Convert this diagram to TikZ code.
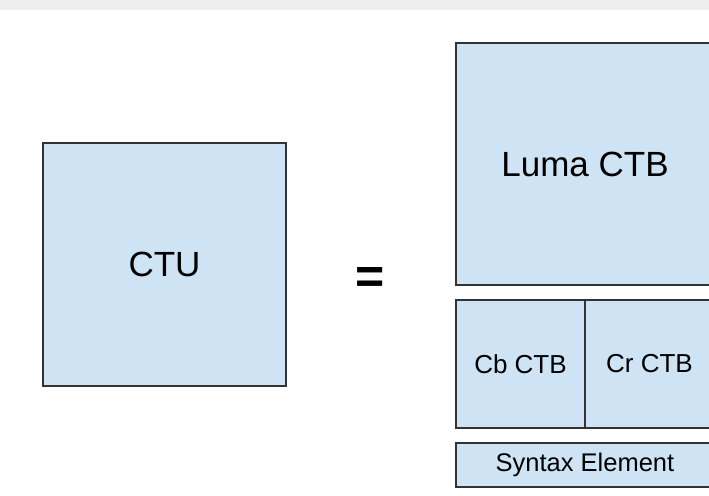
\documentclass[tikz,border=0pt]{standalone}
\usepackage{fontspec}
\setmainfont{Liberation Sans}
\usetikzlibrary{positioning}
\definecolor{cfill}{HTML}{CEE4F4}
\definecolor{cline}{HTML}{333333}
\definecolor{cmark}{HTML}{EEEEEE}
\tikzset{
  every picture/.style={line width=1.6pt},
  block/.style={draw=cline, fill=cfill, inner sep=0pt, outer sep=0pt, align=center},
  big/.style={font=\fontsize{35}{40}\selectfont},
  small/.style={font=\fontsize{26}{30}\selectfont},
}
\begin{document}
\begin{tikzpicture}[x=1pt, y=-1pt]
  \useasboundingbox (0,0) rectangle (709,495);
  \clip (0,0) rectangle (709,495);
  % faint strip along the top
  \fill[cmark] (0,0) rectangle (709,10);
  % left side: the coding tree unit
  \node[block, big, minimum width=243pt, minimum height=243pt] (ctu) at (164.5,264.5) {CTU};
  \node[font=\fontsize{50}{56}\selectfont\bfseries] (eq) at (370,280) {=};
  % right side: its blocks
  \node[block, big, minimum width=258pt, minimum height=242pt] (luma) at (585,164) {Luma CTB};
  \node[block, small, minimum width=129pt, minimum height=128pt] (cb) at (520.5,364) {Cb CTB};
  \node[block, small, minimum width=129pt, minimum height=128pt, right=0pt of cb] (cr) {Cr CTB};
  \node[block, font=\fontsize{25.5}{30}\selectfont, minimum width=258pt, minimum height=44pt] (syn) at (585,465) {Syntax Element};
\end{tikzpicture}
\end{document}
